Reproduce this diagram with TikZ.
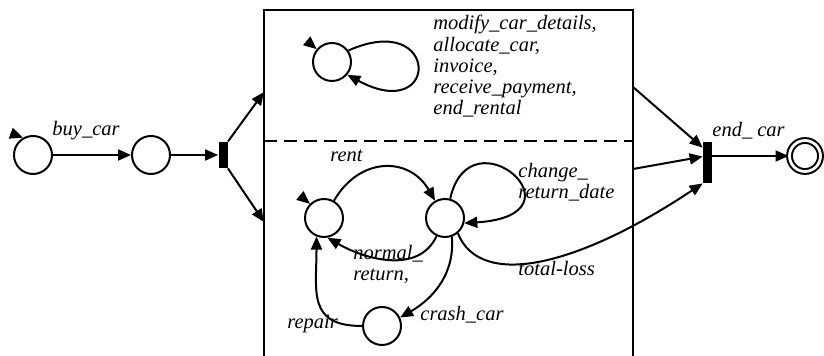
\documentclass[tikz,border=0pt]{standalone}
\usepackage{fontspec}
\setmainfont{Liberation Serif}
\usetikzlibrary{arrows.meta}

\tikzset{
  state/.style={circle,draw,line width=1pt,minimum size=19pt,inner sep=0pt},
  final/.style={state,double,double distance=1.4pt,minimum size=15.5pt},
  bar/.style={rectangle,fill=black,inner sep=0pt,minimum width=4.5pt},
  trans/.style={-{Triangle[length=6.5pt,width=5.5pt]},line width=1pt},
  lbl/.style={font=\fontsize{10.25}{10.6}\selectfont\itshape,inner sep=0pt}
}

\begin{document}
\begin{tikzpicture}[x=0.5pt,y=0.5pt]
  \useasboundingbox (0,0) rectangle (824,-356);

  \coordinate (topIn) at (264,-92);
  \coordinate (botIn) at (264,-222);
  \coordinate (topOut) at (633,-87);
  \coordinate (botOut) at (633,-169);

  % main line
  \node[state] (start) at (33,-155) {};
  \node[state] (owned) at (151,-155) {};
  \node[bar,minimum height=13pt] (fork) at (223,-155) {};
  \node[bar,minimum height=20.5pt] (join) at (707.5,-162.5) {};
  \node[final] (done) at (805,-156) {};

  % the box with its two parts
  \draw[line width=1pt] (264,-356) |- (633,-10) -- (633,-356);
  \draw[line width=1pt,dash pattern=on 6.5pt off 3.5pt] (264,-141) -- (633,-141);

  \node[state] (admin) at (332,-62) {};
  \node[state] (avail) at (324,-218) {};
  \node[state] (rented) at (445,-218) {};
  \node[state] (crashed) at (382,-326) {};

  % initial marks
  \draw[trans] (start.120) ++(160:13) -- (start.120);
  \draw[trans] (admin.140) ++(140:13) -- (admin.140);
  \draw[trans] (avail.135) ++(140:13) -- (avail.135);

  \draw[trans] (start) -- (owned);
  \draw[trans] (owned) -- (fork);
  \draw[trans] (fork.north east) -- (topIn);
  \draw[trans] (fork.south east) -- (botIn);
  \draw[trans] (topOut) -- ([yshift=-3pt]join.north west);
  \draw[trans] (botOut) -- ([yshift=-7.5pt]join.north west);
  \draw[trans] (join.east |- done) -- (done);

  \draw[trans] (admin.35) .. controls +(92,41) and +(93,-50) .. (admin.-40);
  \draw[trans] (avail) to[out=60,in=120,looseness=1.3] (rented);
  \draw[trans] (rented.75) .. controls +(20,89) and +(126,8) .. (rented.-15);
  \draw[trans] (rented.-115) to[out=-115,in=-30] (avail.-80);
  \draw[trans] (rented.-70) to[out=-85,in=30] (crashed.25);
  \draw[trans] (crashed.180) to[out=180,in=-90,looseness=1.4] (avail.-112);
  \draw[trans] (rented.-50) .. controls +(23,-57) and +(-123,-82) .. (join.south west);

  % labels
  \node[lbl,anchor=base west] (buyLbl) at (52,-136) {buy\_car};
  \node[lbl,anchor=north west,align=left] (adminLbl) at (433,-15)
    {modify\_car\_details,\\allocate\_car,\\invoice,\\receive\_payment,\\end\_rental};
  \node[lbl,anchor=base west] (rentLbl) at (330,-162) {rent};
  \node[lbl,anchor=north west,align=left] (changeLbl) at (518,-163) {change\_\\return\_date};
  \node[lbl,anchor=north west,align=left] (normalLbl) at (353,-245) {normal\_\\return,};
  \node[lbl,anchor=base west] (lossLbl) at (518,-276) {total-loss};
  \node[lbl,anchor=base west] (crashLbl) at (420,-321) {crash\_car};
  \node[lbl,anchor=base west] (repairLbl) at (287,-329) {repair};
  \node[lbl,anchor=base west] (endLbl) at (712,-137) {end\_ car};
\end{tikzpicture}
\end{document}
